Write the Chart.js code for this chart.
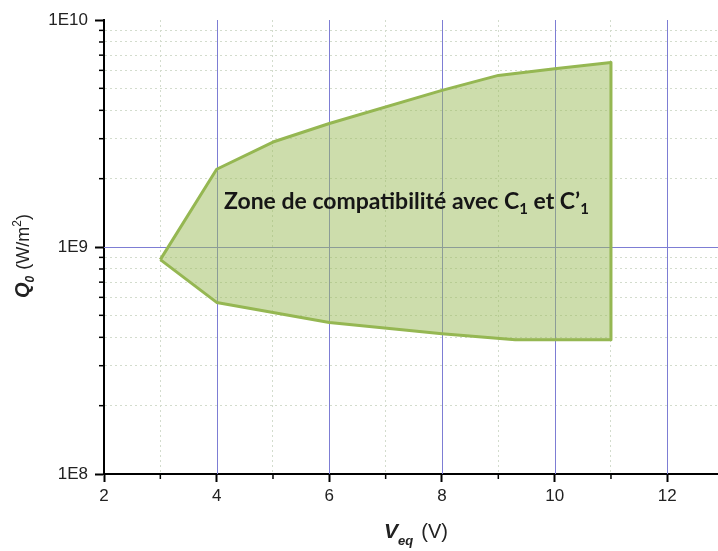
<!DOCTYPE html>
<html>
<head>
<meta charset="utf-8">
<script src="https://cdn.jsdelivr.net/npm/chart.js@4.4.0/dist/chart.umd.min.js"></script>
<style>
  html, body { margin: 0; padding: 0; background: #fff; }
</style>
</head>
<body>
<canvas id="zone" width="718" height="551"></canvas>
<script>
// contour of the compatibility zone, from the left tip, top edge first
var veqPoints = [3, 4, 5, 6, 8, 9, 10, 11, 11, 9.3, 8, 6, 5, 4, 3];
var q0Points = [8.8e8, 2.2e9, 2.9e9, 3.5e9, 4.9e9, 5.7e9, 6.1e9, 6.5e9,
                3.9e8, 3.9e8, 4.15e8, 4.65e8, 5.15e8, 5.7e8, 8.8e8];

var xTicks = [2, 3, 4, 5, 6, 7, 8, 9, 10, 11, 12];
var xMajor = [2, 4, 6, 8, 10, 12];
var yTicks = [1e8, 2e8, 3e8, 4e8, 5e8, 6e8, 7e8, 8e8, 9e8,
              1e9, 2e9, 3e9, 4e9, 5e9, 6e9, 7e9, 8e9, 9e9, 1e10];
var yMajor = [1e8, 1e9, 1e10];
var yLabels = { 1e8: '1E8', 1e9: '1E9', 1e10: '1E10' };

var zoneLabel = 'Zone de compatibilité avec C';

function isMajorX(v) { return xMajor.indexOf(v) >= 0; }
function isMajorY(v) { return yMajor.indexOf(v) >= 0; }

function drawRich(ctx, parts, x, y, align) {
    var total = 0;
    parts.forEach(function (p) {
        ctx.font = p.font;
        p.w = ctx.measureText(p.text).width;
        total += p.w + (p.gap || 0);
    });
    var cx = align === 'center' ? x - total / 2 : x;
    parts.forEach(function (p) {
        ctx.font = p.font;
        ctx.fillText(p.text, cx, y + (p.dy || 0));
        cx += p.w + (p.gap || 0);
    });
}

var gridPlugin = {
    id: 'gridPlugin',
    beforeDatasetsDraw: function (chart) {
        var ctx = chart.ctx, a = chart.chartArea;
        var xs = chart.scales.x, ys = chart.scales.y;
        ctx.save();
        ctx.strokeStyle = '#7d7dd4';
        ctx.lineWidth = 1;
        xMajor.forEach(function (v) {
            if (v === xs.min) return;
            var px = Math.round(xs.getPixelForValue(v)) + 0.5;
            ctx.beginPath(); ctx.moveTo(px, a.top); ctx.lineTo(px, a.bottom); ctx.stroke();
        });
        yMajor.forEach(function (v) {
            if (v === ys.min || v === ys.max) return;
            var py = Math.round(ys.getPixelForValue(v)) + 0.5;
            ctx.beginPath(); ctx.moveTo(a.left, py); ctx.lineTo(a.right, py); ctx.stroke();
        });
        ctx.restore();
    },
    afterDraw: function (chart) {
        var ctx = chart.ctx, a = chart.chartArea;
        var xs = chart.scales.x, ys = chart.scales.y;
        ctx.save();
        // short minor ticks
        ctx.strokeStyle = '#000';
        ctx.lineWidth = 1.5;
        xTicks.forEach(function (v) {
            if (isMajorX(v)) return;
            var px = xs.getPixelForValue(v);
            ctx.beginPath(); ctx.moveTo(px, a.bottom); ctx.lineTo(px, a.bottom + 5); ctx.stroke();
        });
        yTicks.forEach(function (v) {
            if (isMajorY(v)) return;
            var py = ys.getPixelForValue(v);
            ctx.beginPath(); ctx.moveTo(a.left, py); ctx.lineTo(a.left - 5, py); ctx.stroke();
        });

        // zone label
        ctx.fillStyle = '#161616';
        ctx.textBaseline = 'alphabetic';
        var bold = 'bold 23px Lato';
        var sub = 'bold 15px Lato';
        drawRich(ctx, [
            { text: zoneLabel, font: bold },
            { text: '1', font: sub, dy: 5 },
            { text: ' et C\u2019', font: bold },
            { text: '1', font: sub, dy: 5 }
        ], xs.getPixelForValue(4.13), ys.getPixelForValue(1.47e9), 'left');

        // axis titles
        ctx.fillStyle = '#222';
        drawRich(ctx, [
            { text: 'V', font: 'italic bold 21px "Liberation Sans"' },
            { text: 'eq', font: 'italic bold 13px "Liberation Sans"', dy: 7, gap: 8 },
            { text: '(V)', font: '20px "Liberation Sans"' }
        ], (a.left + a.right) / 2 + 5, 538, 'center');

        ctx.translate(22, (a.top + a.bottom) / 2 + 9);
        ctx.rotate(-Math.PI / 2);
        drawRich(ctx, [
            { text: 'Q', font: 'italic bold 20px "Liberation Sans"' },
            { text: '0', font: 'italic bold 12px "Liberation Sans"', dy: 5, gap: 6 },
            { text: '(W/m', font: '18px "Liberation Sans"' },
            { text: '2', font: '12px "Liberation Sans"', dy: -8 },
            { text: ')', font: '18px "Liberation Sans"' }
        ], 0, 7, 'center');
        ctx.restore();
    }
};

var chart = new Chart(document.getElementById('zone'), {
    type: 'scatter',
    data: {
        datasets: [{
            data: veqPoints.map(function (v, i) { return { x: v, y: q0Points[i] }; }),
            showLine: true,
            fill: 'shape',
            backgroundColor: 'rgba(155,187,89,0.5)',
            borderColor: '#95b752',
            borderWidth: 3,
            borderJoinStyle: 'round',
            pointRadius: 0,
            tension: 0
        }]
    },
    options: {
        responsive: false,
        animation: false,
        devicePixelRatio: 1,
        layout: { padding: { top: 20, right: 0, left: 0, bottom: 0 } },
        plugins: { legend: { display: false }, tooltip: { enabled: false } },
        scales: {
            x: {
                type: 'linear',
                min: 2,
                max: 12.9,
                afterBuildTicks: function (s) { s.ticks = xTicks.map(function (v) { return { value: v }; }); },
                afterFit: function (s) { s.height = 77; },
                ticks: {
                    autoSkip: false,
                    maxRotation: 0,
                    padding: 4,
                    color: '#222',
                    font: { family: 'Liberation Sans', size: 17 },
                    callback: function (v) { return isMajorX(v) ? String(v) : ''; }
                },
                grid: {
                    lineWidth: 1,
                    color: function (c) { return c.tick && !isMajorX(c.tick.value) ? '#d3dccd' : 'rgba(0,0,0,0)'; },
                    tickLength: 8,
                    tickWidth: 2,
                    tickColor: function (c) { return c.tick && isMajorX(c.tick.value) ? '#000' : 'rgba(0,0,0,0)'; }
                },
                border: { color: '#000', width: 2, dash: [2, 3] }
            },
            y: {
                type: 'logarithmic',
                min: 1e8,
                max: 1e10,
                afterBuildTicks: function (s) { s.ticks = yTicks.map(function (v) { return { value: v }; }); },
                afterFit: function (s) { s.width = 104; },
                ticks: {
                    autoSkip: false,
                    padding: 7,
                    color: '#222',
                    font: { family: 'Liberation Sans', size: 17 },
                    callback: function (v) { return yLabels[v] || ''; }
                },
                grid: {
                    lineWidth: 1,
                    color: function (c) { return c.tick && !isMajorY(c.tick.value) ? '#d3dccd' : 'rgba(0,0,0,0)'; },
                    tickLength: 9,
                    tickWidth: 2,
                    tickColor: function (c) { return c.tick && isMajorY(c.tick.value) ? '#000' : 'rgba(0,0,0,0)'; }
                },
                border: { color: '#000', width: 2, dash: [2, 3] }
            }
        }
    },
    plugins: [gridPlugin]
});
</script>
</body>
</html>
